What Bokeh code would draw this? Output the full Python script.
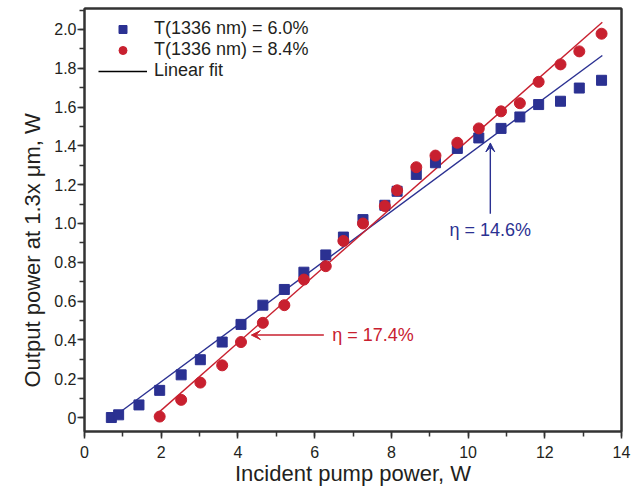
from bokeh.plotting import figure
from bokeh.models import (Range1d, SingleIntervalTicker, CustomJSTickFormatter, Legend,
                          LegendItem, Arrow, VeeHead, Label, LinearAxis, Title)
from bokeh.embed import file_html
from bokeh.resources import INLINE

# ---- data ----
pump_a = [0.70, 0.89, 1.42, 1.96, 2.52, 3.02, 3.59, 4.08, 4.65, 5.21, 5.72, 6.29, 6.75,
          7.26, 7.83, 8.15, 8.65, 9.15, 9.72, 10.28, 10.86, 11.35, 11.84, 12.41, 12.90, 13.48]
out_a = [0.00, 0.014, 0.065, 0.14, 0.22, 0.298, 0.389, 0.48, 0.579, 0.66, 0.749, 0.838, 0.93,
         1.02, 1.094, 1.166, 1.253, 1.313, 1.387, 1.441, 1.49, 1.549, 1.613, 1.63, 1.698, 1.738]
pump_b = [1.96, 2.52, 3.02, 3.59, 4.08, 4.65, 5.21, 5.72, 6.29, 6.75, 7.26, 7.83, 8.15,
          8.65, 9.15, 9.72, 10.28, 10.86, 11.35, 11.84, 12.41, 12.90, 13.48]
out_b = [0.005, 0.091, 0.18, 0.269, 0.389, 0.488, 0.579, 0.711, 0.78, 0.91, 1.00, 1.09, 1.171,
         1.29, 1.35, 1.416, 1.49, 1.578, 1.62, 1.73, 1.82, 1.887, 1.978]
fit_a_x = [0.94, 13.50]
fit_a_y = [0.03, 1.866]
fit_b_x = [1.90, 13.50]
fit_b_y = [0.02, 2.037]

label_a = "T(1336 nm) = 6.0%"
label_b = "T(1336 nm) = 8.4%"
label_fit = "Linear fit"
x_title = "Incident pump power, W"
y_title = "Output power at 1.3x μm, W"
eta_a = "η = 14.6%"
eta_b = "η = 17.4%"
eta_a_arrow = dict(x0=10.58, y0=1.05, x1=10.58, y1=1.415)
eta_a_text = (10.58, 0.965)
eta_b_arrow = dict(x0=6.24, y0=0.425, x1=4.35, y1=0.425)
eta_b_text = (6.46, 0.425)

BLUE = "#2B3192"
RED = "#C8202F"
FONT = "Liberation Sans"
INK = "#231F20"
SPINE = "#333333"

p = figure(width=636, height=488, output_backend="svg", toolbar_location=None,
           x_range=Range1d(0, 14), y_range=Range1d(-0.072, 2.108),
           min_border_left=84, min_border_right=15, min_border_top=8, min_border_bottom=57)
p.background_fill_color = "white"
p.border_fill_color = "white"
p.grid.visible = False
p.outline_line_color = SPINE
p.outline_line_width = 2

p.xaxis.ticker = SingleIntervalTicker(interval=2, num_minor_ticks=2)
p.yaxis.ticker = SingleIntervalTicker(interval=0.2, num_minor_ticks=2)
p.yaxis.formatter = CustomJSTickFormatter(code="return Math.abs(tick) < 1e-9 ? '0' : tick.toFixed(1);")

for ax in (p.xaxis[0], p.yaxis[0]):
    ax.axis_line_color = SPINE
    ax.axis_line_width = 2
    ax.major_tick_line_color = SPINE
    ax.minor_tick_line_color = SPINE
    ax.major_tick_line_width = 1.5
    ax.minor_tick_line_width = 1.5
    ax.major_tick_in = 0
    ax.major_tick_out = 7
    ax.minor_tick_in = 0
    ax.minor_tick_out = 5
    ax.major_label_text_font = FONT
    ax.major_label_text_font_size = "16px"
    ax.major_label_text_color = INK
    ax.axis_label_text_font = FONT
    ax.axis_label_text_font_size = "22px"
    ax.axis_label_text_font_style = "normal"
    ax.axis_label_text_color = INK

p.xaxis.axis_label = x_title
p.xaxis.major_label_standoff = 7
p.xaxis.axis_label_standoff = 0
p.yaxis.major_label_standoff = 1

# y title as a left-side title, anchored near the bottom of the frame as in the original
p.add_layout(Title(text=y_title, align="left", offset=44, standoff=14,
                   text_font=FONT, text_font_size="22px", text_font_style="normal",
                   text_color=INK), "left")

# plain frame lines on top and right
for side in ("right", "above"):
    fr = LinearAxis(axis_line_color=SPINE, axis_line_width=2,
                    major_tick_line_color=None, minor_tick_line_color=None,
                    major_label_text_font_size="0px", major_label_text_alpha=0)
    p.add_layout(fr, side)

ra_fit = p.line(fit_a_x, fit_a_y, line_color=BLUE, line_width=1.4)
rb_fit = p.line(fit_b_x, fit_b_y, line_color=RED, line_width=1.4)
ra = p.scatter(pump_a, out_a, marker="square", size=10, fill_color=BLUE, line_color=BLUE)
rb = p.scatter(pump_b, out_b, marker="circle", size=11, fill_color=RED, line_color=RED)
nan = float("nan")
r_leg_line = p.line(x=[nan, nan], y=[nan, nan], line_color="black", line_width=1.4)

legend = Legend(items=[LegendItem(label=label_a, renderers=[ra]),
                       LegendItem(label=label_b, renderers=[rb]),
                       LegendItem(label=label_fit, renderers=[r_leg_line])])
legend.background_fill_alpha = 0
legend.border_line_alpha = 0
legend.margin = 0
legend.padding = 0
legend.glyph_width = 49
legend.glyph_height = 20
legend.label_height = 20
legend.spacing = 0
legend.label_standoff = 7
legend.label_text_font = FONT
legend.label_text_font_size = "18px"
legend.label_text_color = INK
legend.label_text_baseline = "middle"
legend.location = (14, 350)
p.add_layout(legend)

p.add_layout(Arrow(end=VeeHead(size=9, fill_color=BLUE, line_color=BLUE, line_width=1),
                   x_start=eta_a_arrow["x0"], y_start=eta_a_arrow["y0"],
                   x_end=eta_a_arrow["x1"], y_end=eta_a_arrow["y1"],
                   line_color=BLUE, line_width=1.4))
p.add_layout(Arrow(end=VeeHead(size=9, fill_color=RED, line_color=RED, line_width=1),
                   x_start=eta_b_arrow["x0"], y_start=eta_b_arrow["y0"],
                   x_end=eta_b_arrow["x1"], y_end=eta_b_arrow["y1"],
                   line_color=RED, line_width=1.4))
p.add_layout(Label(x=eta_a_text[0], y=eta_a_text[1], text=eta_a, text_align="center",
                   text_baseline="middle", text_color=BLUE, text_font=FONT,
                   text_font_size="18px"))
p.add_layout(Label(x=eta_b_text[0], y=eta_b_text[1], text=eta_b, text_align="left",
                   text_baseline="middle", text_color=RED, text_font=FONT,
                   text_font_size="18px"))

open("out.html", "w").write(file_html(p, INLINE))
